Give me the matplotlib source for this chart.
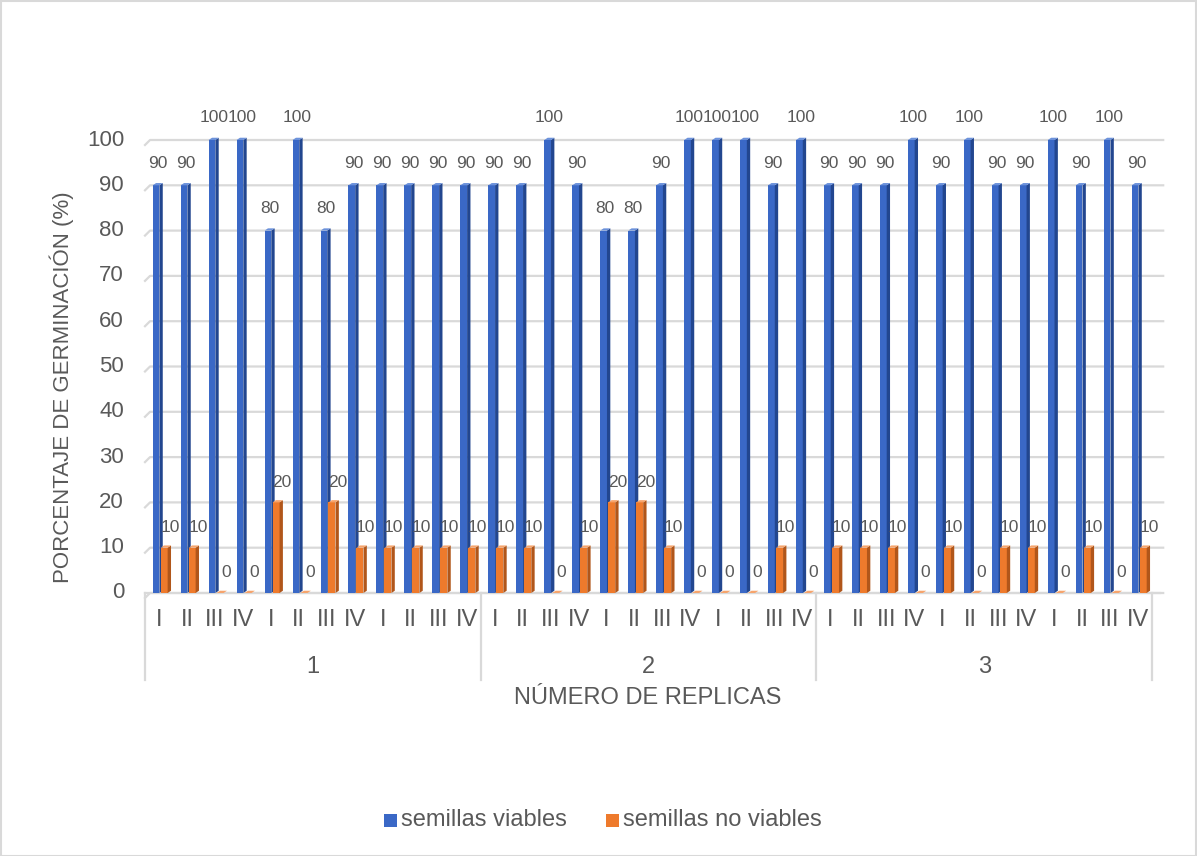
import matplotlib
matplotlib.use("Agg")
import matplotlib.pyplot as plt
from matplotlib.patches import Polygon, Rectangle
from matplotlib.transforms import blended_transform_factory

plt.rcParams['font.family'] = ['Liberation Sans', 'DejaVu Sans']

# ---- data -------------------------------------------------------------
groups = ["1", "2", "3"]
subcats = ["I", "II", "III", "IV", "I", "II", "III", "IV", "I", "II", "III", "IV"]

viables = [90, 90, 100, 100, 80, 100, 80, 90, 90, 90, 90, 90,
           90, 90, 100, 90, 80, 80, 90, 100, 100, 100, 90, 100,
           90, 90, 90, 100, 90, 100, 90, 90, 100, 90, 100, 90]
no_viables = [10, 10, 0, 0, 20, 0, 20, 10, 10, 10, 10, 10,
              10, 10, 0, 10, 20, 20, 10, 0, 0, 0, 10, 0,
              10, 10, 10, 0, 10, 0, 10, 10, 0, 10, 0, 10]

series_names = ["semillas viables", "semillas no viables"]
yticks = list(range(0, 101, 10))

# ---- style ------------------------------------------------------------
W, H = 1197, 856
TXT = "#595959"
GRID = "#D9D9D9"
BLUE = dict(front="#3A68C6", side="#22468F", top="#6C92DB")
ORANGE = dict(front="#EE7A2C", side="#B1561A", top="#F6A46C")

fig = plt.figure(figsize=(W / 100, H / 100), dpi=100)
ax = fig.add_axes([145 / W, 1 - 593 / H, (1152 - 145) / W, (593 - 140) / H])
n = len(viables)
ax.set_xlim(-0.5, n - 0.5)
ax.set_ylim(0, 100)
ax.axis("off")

# perspective offsets for the pseudo-3D look (data units)
DX, DY = 0.12, 0.5
WALL_DX, WALL_DY = 0.18, 1.1

# gridlines on the back wall with a short diagonal at the left edge
for t in yticks:
    ax.plot([-0.5, -0.5 + WALL_DX, n - 0.5 + 0.4], [t - WALL_DY, t, t],
            color=GRID, lw=1.6, zorder=0, clip_on=False, solid_joinstyle="round")
    ax.text(-0.5 - 0.75, t, str(t), ha="right", va="center",
            fontsize=16, color=TXT)


def bar3d(x0, w, v, col, z):
    ax.add_patch(Rectangle((x0, 0), w, v, facecolor=col["front"],
                           edgecolor="none", zorder=z, clip_on=False))
    ax.add_patch(Polygon([(x0 + w, 0), (x0 + w + DX, DY), (x0 + w + DX, v + DY),
                          (x0 + w, v)], closed=True, facecolor=col["side"],
                         edgecolor="none", zorder=z, clip_on=False))
    ax.add_patch(Polygon([(x0, v), (x0 + w, v), (x0 + w + DX, v + DY),
                          (x0 + DX, v + DY)], closed=True, facecolor=col["top"],
                         edgecolor="none", zorder=z, clip_on=False))


for i in range(n):
    bar3d(i - 0.225, 0.24, viables[i], BLUE, 2)
    bar3d(i + 0.06, 0.25, no_viables[i], ORANGE, 3)

# value labels
for i in range(n):
    ax.annotate(str(viables[i]), (i - 0.225 + 0.18, viables[i]),
                xytext=(0, 16), textcoords="offset points",
                ha="center", va="center", fontsize=12.5, color=TXT, zorder=5)
    ax.annotate(str(no_viables[i]), (i + 0.06 + 0.18, no_viables[i]),
                xytext=(3, 14.5), textcoords="offset points",
                ha="center", va="center", fontsize=12.5, color=TXT, zorder=5)

# multi-level category axis
bt = blended_transform_factory(ax.transData, ax.transAxes)
ax.plot([-0.5, n - 0.5 + 0.3], [0, 0], color=GRID, lw=1.6, transform=bt,
        clip_on=False, zorder=1)
per = len(subcats)
for g in range(len(groups) + 1):
    xb = g * per - 0.5
    ax.plot([xb, xb], [0, -0.192], color=GRID, lw=1.6, transform=bt,
            clip_on=False, zorder=1)
for i in range(n):
    ax.text(i, -0.06, subcats[i % per], transform=bt, ha="center",
            va="center", fontsize=17, color=TXT)
for g, name in enumerate(groups):
    ax.text(g * per + (per - 1) / 2, -0.163, name, transform=bt,
            ha="center", va="center", fontsize=17, color=TXT)

# axis titles
fig.text(648 / W, 1 - 698 / H, "NÚMERO DE REPLICAS", ha="center",
         va="center", fontsize=17, color=TXT)
fig.text(62 / W, 1 - 387 / H, "PORCENTAJE DE GERMINACIÓN (%)", ha="center",
         va="center", rotation=90, fontsize=16, color=TXT)

# legend
for (x_sq, col), label in zip([(384, BLUE), (606, ORANGE)], series_names):
    fig.patches.append(Rectangle((x_sq / W, 1 - 827 / H), 13 / W, 13 / H,
                                 facecolor=col["front"], edgecolor="none",
                                 transform=fig.transFigure))
    fig.text((x_sq + 17) / W, 1 - 820 / H, label, ha="left", va="center",
             fontsize=17, color=TXT)

# chart border
fig.patches.append(Rectangle((0.5 / W, 0.5 / H), 1 - 1.5 / W, 1 - 1.5 / H,
                             facecolor="none", edgecolor=GRID, lw=1.5,
                             transform=fig.transFigure))

fig.savefig("out.png", dpi=100, facecolor="white")
